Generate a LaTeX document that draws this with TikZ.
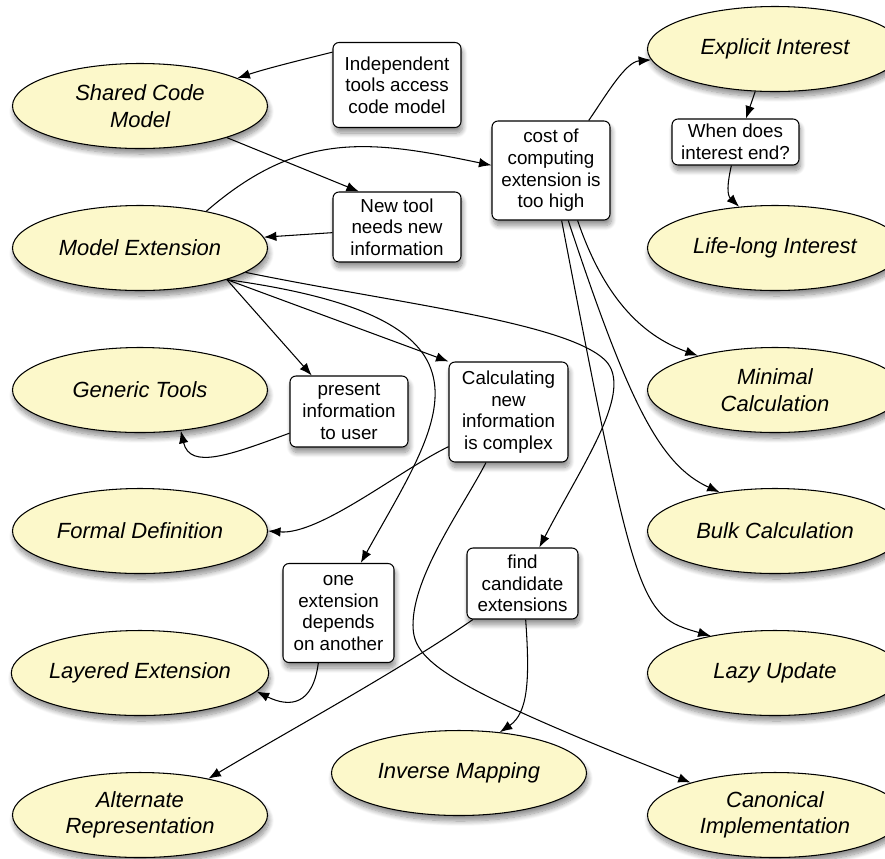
\documentclass[tikz,border=0pt]{standalone}
\usepackage{fontspec}
\setmainfont{Liberation Sans}
\usetikzlibrary{shapes.geometric,shadows.blur,arrows.meta}
\definecolor{ideafill}{RGB}{252,248,202}

\begin{document}
\begin{tikzpicture}[x=0.2mm, y=-0.2mm, line width=0.6pt,
    >={Latex[length=2.5mm,width=1.9mm]},
    soft/.style={blur shadow={shadow xshift=0.3mm, shadow yshift=-1.1mm,
      shadow blur radius=1mm, shadow blur steps=10, shadow opacity=45}},
    idea/.style={ellipse, draw, fill=ideafill, minimum width=5.1cm,
      minimum height=1.7cm, inner sep=0pt, align=center,
      font=\fontsize{12.5}{15}\selectfont\itshape, soft},
    note/.style={rectangle, draw, fill=white, rounded corners=1.2mm,
      inner sep=0pt, align=center, font=\fontsize{10.7}{12.3}\selectfont,
      soft}]
  \useasboundingbox (0,0) rectangle (885,858);

  % Ideen
  \node[idea] (shared)    at (140,106) {Shared Code\\Model};
  \node[idea] (modelext)  at (140,248) {Model Extension};
  \node[idea] (generic)   at (140,390) {Generic Tools};
  \node[idea] (formal)    at (140,531) {Formal Definition};
  \node[idea] (layered)   at (140,673) {Layered Extension};
  \node[idea] (alternate) at (140,815) {Alternate\\Representation};
  \node[idea] (explicit)  at (775,49)  {Explicit Interest};
  \node[idea] (lifelong)  at (775,248) {Life-long Interest};
  \node[idea] (minimal)   at (775,390) {Minimal\\Calculation};
  \node[idea] (bulk)      at (775,531) {Bulk Calculation};
  \node[idea] (lazy)      at (775,673) {Lazy Update};
  \node[idea] (canonical) at (775,815) {Canonical\\Implementation};
  \node[idea] (inverse)   at (459,773) {Inverse Mapping};

  % Probleme
  \node[note, minimum width=2.56cm, minimum height=1.7cm] (indep) at (397,85)
    {Independent\\tools access\\code model};
  \node[note, minimum width=2.56cm, minimum height=1.4cm] (newtool) at (397,227)
    {New tool\\needs new\\information};
  \node[note, minimum width=2.36cm, minimum height=1.98cm] (cost) at (551,170.5)
    {cost of\\computing\\extension is\\too high};
  \node[note, minimum width=2.54cm, minimum height=0.92cm] (when) at (735.5,142)
    {When does\\interest end?};
  \node[note, minimum width=2.36cm, minimum height=1.42cm] (present) at (349,411.5)
    {present\\information\\to user};
  \node[note, minimum width=2.38cm, minimum height=2cm] (calc) at (508.5,412)
    {Calculating\\new\\information\\is complex};
  \node[note, minimum width=2.22cm, minimum height=1.98cm] (oneext) at (338.5,613)
    {one\\extension\\depends\\on another};
  \node[note, minimum width=2.22cm, minimum height=1.42cm] (find) at (522.5,583.5)
    {find\\candidate\\extensions};

  % Pfeile
  \draw[->] (indep.153) .. controls (305,59) and (268,68) .. (shared.16);
  \draw[->] (shared.-20) -- (newtool.137);
  \draw[->] (newtool.185) -- (modelext.5);
  \draw[->] (modelext.29) .. controls (300,130) and (370,140) .. (cost.175);
  \draw[->] (cost.53) .. controls (605,97) and (625,62) .. (explicit.185);
  \draw[->] (explicit.-115) -- (when.66);
  \draw[->] (when.-100) .. controls (727,185) and (727,195) .. (lifelong.131);
  \draw[->] (cost.-62) .. controls (603,295) and (640,335) .. (minimal.156);
  \draw[->] (cost.-71) .. controls (629,404) and (660,465) .. (bulk.145);
  \draw[->] (cost.-78) .. controls (636,608) and (640,616) .. (lazy.150);
  \draw[->] (modelext.-20) -- (present.136);
  \draw[->] (modelext.-20) -- (calc.north west);
  \draw[->] (modelext.-20) .. controls (520,320) and (440,420) .. (oneext.66);
  \draw[->] (modelext.-13) .. controls (395,303) and (565,322) .. (605,360)
            .. controls (635,390) and (583,463) .. (find.65);
  \draw[->] (calc.210) .. controls (400,470) and (320,535) .. (formal.0);
  \draw[->] (calc.-114) .. controls (463,507) and (413,575) .. (413,625)
            .. controls (413,660) and (440,684) .. (canonical.159);
  \draw[->] (find.216) .. controls (400,670) and (290,730) .. (alternate.28);
  \draw[->] (find.-85) .. controls (530,680) and (528,713) .. (inverse.45);
  \draw[->] (oneext.-112) .. controls (313,705) and (290,708) .. (layered.-9);
  \draw[->] (present.200) .. controls (230,455) and (190,470) .. (generic.-45);
\end{tikzpicture}
\end{document}
